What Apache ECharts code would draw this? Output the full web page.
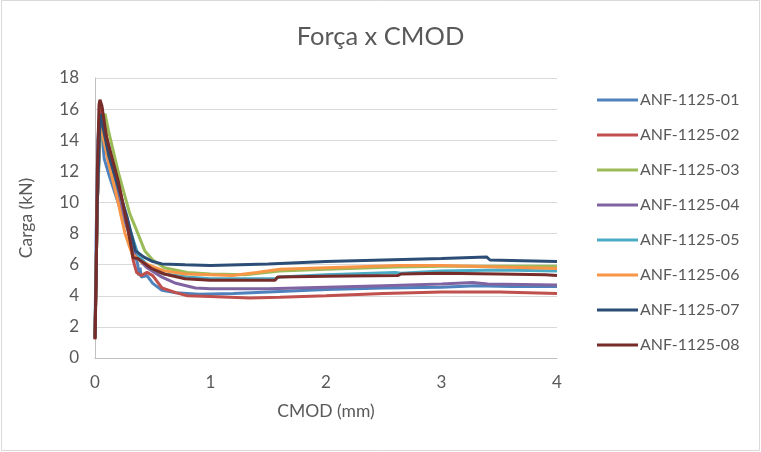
<!DOCTYPE html>
<html>
<head>
<meta charset="utf-8">
<script src="https://cdn.jsdelivr.net/npm/echarts@6/dist/echarts.min.js"></script>
<style>
  html, body { margin: 0; padding: 0; background: #fff; }
  #chart { width: 761px; height: 452px; }
</style>
</head>
<body>
<div id="chart"></div>
<script>
// CMOD (mm), carga (kN)
var names = ['ANF-1125-01', 'ANF-1125-02', 'ANF-1125-03', 'ANF-1125-04',
             'ANF-1125-05', 'ANF-1125-06', 'ANF-1125-07', 'ANF-1125-08'];
var xTicks = [0, 1, 2, 3, 4];
var yTicks = [0, 2, 4, 6, 8, 10, 12, 14, 16, 18];

var s01 = [[0,1.5],[0.01,8],[0.025,14],[0.04,15.7],[0.06,14.5],[0.08,12.8],[0.12,11.8],[0.2,10],[0.28,8.3],[0.33,7.2],[0.37,6.0],[0.38,5.3],[0.39,5.8],[0.4,5.2],[0.45,5.3],[0.5,4.8],[0.58,4.35],[0.7,4.2],[0.9,4.1],[1.2,4.15],[1.5,4.25],[2.0,4.4],[2.5,4.5],[3.0,4.55],[3.3,4.65],[3.6,4.6],[4.0,4.6]];
var s02 = [[0,1.2],[0.02,10],[0.04,15.2],[0.058,16.1],[0.08,15],[0.12,13.5],[0.2,11.4],[0.28,8.5],[0.33,6.3],[0.36,5.5],[0.4,5.3],[0.45,5.5],[0.5,5.3],[0.58,4.5],[0.7,4.2],[0.8,4.0],[1.0,3.95],[1.34,3.85],[1.6,3.9],[2.0,4.0],[2.5,4.15],[3.0,4.25],[3.5,4.25],[4.0,4.15]];
var s03 = [[0,1.3],[0.02,10],[0.05,15],[0.087,15.7],[0.12,14.5],[0.2,12],[0.3,9.3],[0.35,8.4],[0.43,6.9],[0.5,6.3],[0.6,5.8],[0.8,5.5],[1.0,5.4],[1.3,5.35],[1.6,5.6],[2.0,5.7],[2.6,5.85],[3.0,5.9],[3.5,5.9],[4.0,5.9]];
var s04 = [[0,1.4],[0.02,10],[0.045,15.3],[0.07,14.5],[0.12,12.5],[0.2,10.5],[0.3,8],[0.37,6.4],[0.45,5.8],[0.58,5.2],[0.7,4.8],[0.87,4.5],[1.0,4.45],[1.5,4.45],[2.0,4.55],[2.5,4.65],[3.0,4.75],[3.27,4.85],[3.4,4.75],[4.0,4.7]];
var s05 = [[0,1.3],[0.02,10],[0.045,15.3],[0.07,14.6],[0.12,13],[0.2,11],[0.3,8.3],[0.38,6.5],[0.5,5.7],[0.6,5.4],[0.8,5.2],[1.0,5.1],[1.3,5.1],[1.56,5.1],[1.6,5.2],[2.0,5.35],[2.6,5.5],[2.65,5.45],[3.0,5.6],[3.5,5.65],[4.0,5.6]];
var s06 = [[0,1.3],[0.02,10],[0.04,14.5],[0.05,15],[0.07,14.2],[0.12,12.5],[0.2,10],[0.26,8],[0.32,6.7],[0.4,6.2],[0.49,5.9],[0.6,5.6],[0.78,5.4],[1.0,5.35],[1.19,5.3],[1.4,5.5],[1.6,5.7],[2.0,5.8],[2.64,5.95],[3.0,5.95],[3.5,5.85],[4.0,5.75]];
var s07 = [[0,1.3],[0.02,10],[0.045,15.7],[0.07,14.8],[0.12,13],[0.2,11],[0.28,9],[0.35,6.9],[0.42,6.5],[0.5,6.2],[0.58,6.05],[0.78,6.0],[1.0,5.95],[1.5,6.05],[2.0,6.2],[2.5,6.3],[3.0,6.4],[3.39,6.5],[3.42,6.3],[3.7,6.25],[4.0,6.2]];
var s08 = [[0,1.2],[0.01,5],[0.02,12],[0.035,16.3],[0.043,16.6],[0.06,16.2],[0.1,14.2],[0.2,11.4],[0.28,8.5],[0.33,6.45],[0.37,6.4],[0.49,5.75],[0.6,5.4],[0.78,5.1],[1.0,5.0],[1.3,5.0],[1.56,5.0],[1.58,5.2],[2.0,5.25],[2.62,5.3],[2.65,5.4],[3.0,5.45],[3.5,5.4],[3.9,5.35],[4.0,5.3]];

var allData = [s01, s02, s03, s04, s05, s06, s07, s08];
var colors = ['#4f81bd', '#c0504d', '#9bbb59', '#8064a2', '#4bacc6', '#f79646', '#2c4d75', '#772c2a'];

var font = 'Lato, "Open Sans", sans-serif';
var txt = '#595959';

var series = [];
for (var i = 0; i < names.length; i++) {
  series.push({
    name: names[i],
    type: 'line',
    data: allData[i],
    showSymbol: false,
    smooth: false,
    lineStyle: { width: 3, color: colors[i] },
    itemStyle: { color: colors[i] },
    z: 2 + i
  });
}

var chart = echarts.init(document.getElementById('chart'));
chart.setOption({
  animation: false,
  color: colors,
  title: {
    text: 'Força x CMOD',
    left: 'center', top: 19,
    textStyle: { fontFamily: font, fontSize: 25.5, fontWeight: 'normal', color: txt }
  },
  graphic: [{
    type: 'rect',
    shape: { x: 1.5, y: 0.5, width: 758, height: 450 },
    style: { fill: 'none', stroke: '#d9d9d9', lineWidth: 1 },
    silent: true
  }],
  legend: {
    orient: 'vertical',
    left: 592, top: 86,
    icon: 'rect',
    itemWidth: 41, itemHeight: 3,
    itemGap: 17,
    textStyle: { fontFamily: font, fontSize: 16, color: txt, lineHeight: 18, padding: [0, 0, 0, -3] },
    data: names
  },
  grid: { left: 95, top: 78, right: 204, bottom: 94, containLabel: false },
  xAxis: {
    type: 'value', min: 0, max: 4, interval: 1,
    name: 'CMOD (mm)', nameLocation: 'middle', nameGap: 44,
    nameTextStyle: { fontFamily: font, fontSize: 17.5, color: txt },
    axisLine: { show: true, lineStyle: { color: '#bfbfbf', width: 1 } },
    axisTick: { show: false },
    splitLine: { show: false },
    axisLabel: { fontFamily: font, fontSize: 17, color: txt, margin: 16,
      formatter: function (v) { return xTicks.indexOf(v) >= 0 ? String(v) : ''; } }
  },
  yAxis: {
    type: 'value', min: 0, max: 18, interval: 2,
    name: 'Carga (kN)', nameLocation: 'middle', nameGap: 60, nameRotate: 90,
    nameTextStyle: { fontFamily: font, fontSize: 17.5, color: txt },
    axisLine: { show: true, lineStyle: { color: '#bfbfbf', width: 1 } },
    axisTick: { show: false },
    splitLine: { show: true, lineStyle: { color: '#d9d9d9', width: 1 } },
    axisLabel: { fontFamily: font, fontSize: 17, color: txt, margin: 16,
      formatter: function (v) { return yTicks.indexOf(v) >= 0 ? String(v) : ''; } }
  },
  series: series
});
</script>
</body>
</html>
